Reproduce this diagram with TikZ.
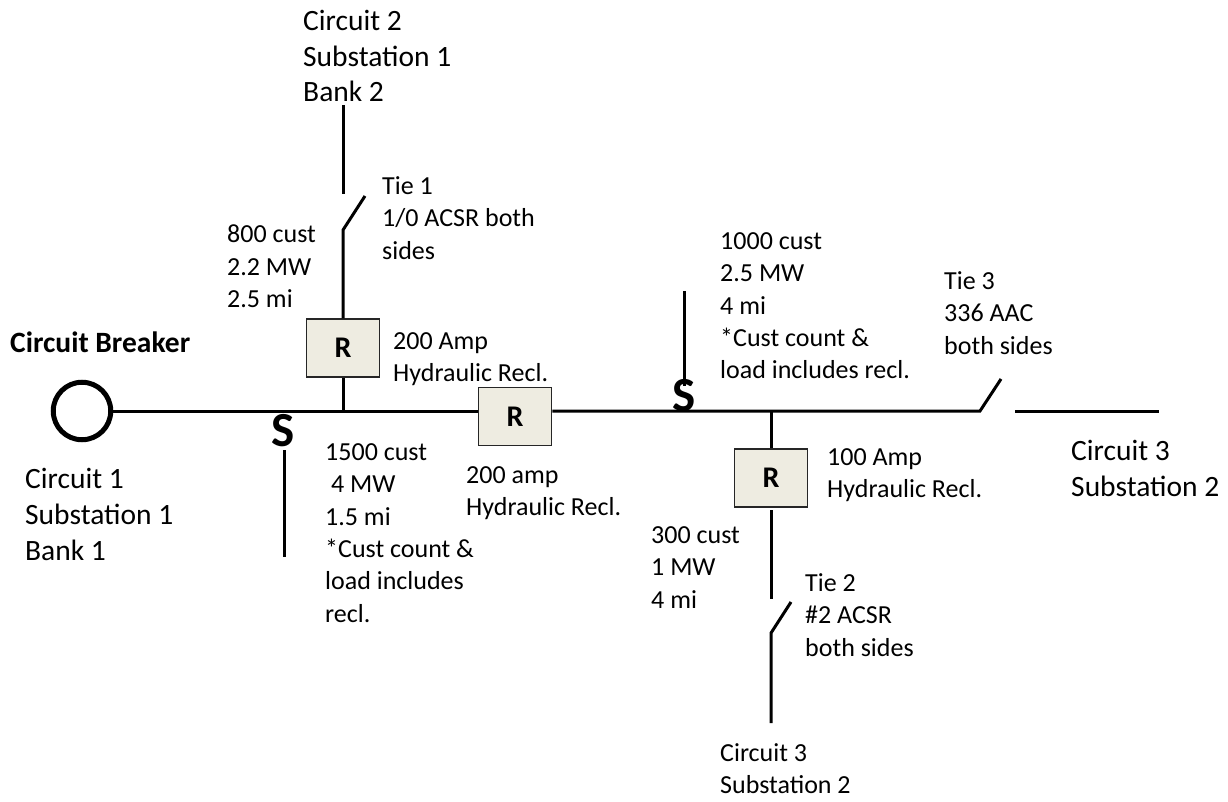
\documentclass[tikz,border=0pt]{standalone}
\usepackage{fontspec}
\setmainfont{Carlito}
\begin{document}
\begin{tikzpicture}[x=1pt,y=-1pt,
  wire/.style={line width=3pt},
  recl/.style={draw=black!85,line width=1.5pt,fill=recfill,minimum width=73pt,minimum height=58pt,inner sep=0pt,font=\fontsize{30}{32}\selectfont\bfseries},
  lab/.style={anchor=north west,align=left,inner sep=0pt,font=\fontsize{26}{32.3}\selectfont},
  labw/.style={anchor=north west,align=left,inner sep=0pt,font=\fontsize{29.5}{35.7}\selectfont},
  sw/.style={inner sep=0pt,font=\fontsize{49}{49}\selectfont\bfseries}]
\definecolor{recfill}{RGB}{238,236,225}
\useasboundingbox (0,0) rectangle (1228,802);
% breaker
\node[circle,draw,line width=5pt,minimum size=57.5pt,inner sep=0pt] (cb) at (82,411) {};
% reclosers
\node[recl] (r1) at (343,348) {R};
\node[recl] (r2) at (515,416.5) {R};
\node[recl] (r3) at (771,478) {R};
% junctions and ends
\coordinate (j1) at (343,411);
\coordinate (r2w) at (r2.west |- j1);
\coordinate (r2e) at (r2.east |- j1);
\coordinate (j3) at (771,411);
\coordinate (t3a) at (980,411);
\coordinate (t3b) at (1001,379);
\coordinate (t3c) at (1015,411);
\coordinate (t3d) at (1159,411);
\coordinate (t1top) at (343,105);
\coordinate (t1c) at (343,194);
\coordinate (t1b) at (365,196);
\coordinate (t1a) at (343,230);
\coordinate (t2a) at (771,510);
\coordinate (t2b) at (771,599);
\coordinate (t2c) at (791,602);
\coordinate (t2d) at (771,633);
\coordinate (t2e) at (771,723);
\coordinate (s1a) at (284,450);
\coordinate (s1b) at (284,557);
\coordinate (s2a) at (684,291);
\coordinate (s2b) at (684,386);
% wires
\draw[wire] (cb.east) -- (r2w);
\draw[wire] (r2e) -- (t3a) -- (t3b);
\draw[wire] (t3c) -- (t3d);
\draw[wire] (j1) -- (r1.south);
\draw[wire] (r1.north) -- (t1a) -- (t1b);
\draw[wire] (t1top) -- (t1c);
\draw[wire] (j3) -- (r3.north);
\draw[wire] (t2a) -- (t2b);
\draw[wire] (t2c) -- (t2d) -- (t2e);
\draw[wire] (s1a) -- (s1b);
\draw[wire] (s2a) -- (s2b);
% S marks
\node[sw] (s1) at (283,431) {S};
\node[sw] (s2) at (684,396) {S};
% labels
\node[labw] (l1) at (303,10) {Circuit 2\\Substation 1\\Bank 2};
\node[lab] (l2) at (382,176.5) {Tie 1\\1/0 ACSR both\\sides};
\node[lab] (l3) at (227,225) {800 cust\\2.2 MW\\2.5 mi};
\node[lab] (l4) at (393,332) {200 Amp\\Hydraulic Recl.};
\node[anchor=north west,inner sep=0pt,font=\fontsize{29.5}{32}\selectfont\bfseries] (l5) at (10,331.5) {Circuit Breaker};
\node[labw] (l6) at (25,468.5) {Circuit 1\\Substation 1\\Bank 1};
\node[lab] (l7) at (325,443.5) {1500 cust\\\ 4 MW\\1.5 mi\\*Cust count \&\\load includes\\recl.};
\node[lab] (l8) at (466,466.5) {200 amp\\Hydraulic Recl.};
\node[lab] (l9) at (720,232.5) {1000 cust\\2.5 MW\\4 mi\\*Cust count \&\\load includes recl.};
\node[lab] (l11) at (827,448.5) {100 Amp\\Hydraulic Recl.};
\node[lab] (l12) at (651,526.5) {300 cust\\1 MW\\4 mi};
\node[lab] (l13) at (805,573.5) {Tie 2\\\#2 ACSR\\both sides};
\node[lab] (l14) at (720,743.5) {Circuit 3\\Substation 2};
\node[labw] (l15) at (1071,440.5) {Circuit 3\\Substation 2};
\node[lab] (l16) at (944,271.5) {Tie 3\\336 AAC\\both sides};
\end{tikzpicture}
\end{document}
